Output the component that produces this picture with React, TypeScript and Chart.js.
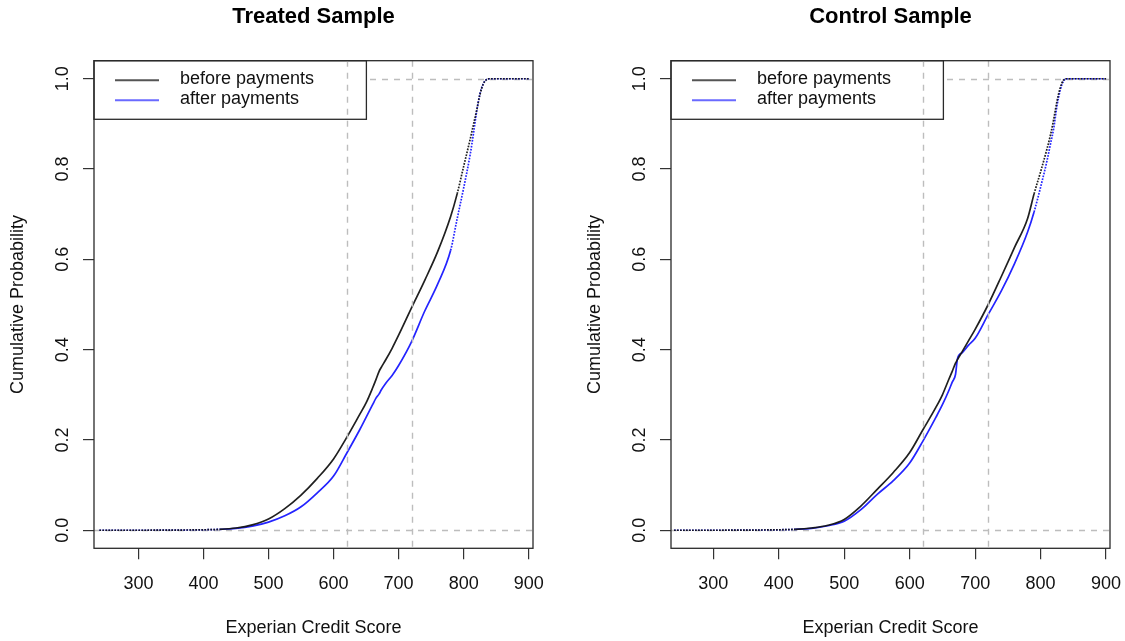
import React, { useEffect, useRef } from 'react';
import { Chart, registerables } from 'chart.js';

Chart.register(...registerables);

// ---------- data ----------
const scores = [240, 300, 350, 400, 425, 450, 475, 500, 525, 550, 575, 600, 620, 640, 650, 660, 665, 670, 673, 680, 690, 700, 720, 740, 760, 780, 790, 800, 810, 815, 820, 825, 830, 835, 840, 900];

const treatedBefore = [0, 0, 0.0003, 0.001, 0.002, 0.005, 0.012, 0.025, 0.048, 0.078, 0.115, 0.158, 0.205, 0.256, 0.282, 0.315, 0.333, 0.352, 0.36, 0.377, 0.403, 0.432, 0.493, 0.553, 0.617, 0.695, 0.745, 0.806, 0.866, 0.898, 0.93, 0.965, 0.988, 0.998, 1, 1];
const treatedAfter = [0, 0, 0.0002, 0.001, 0.002, 0.004, 0.009, 0.018, 0.032, 0.052, 0.083, 0.12, 0.17, 0.222, 0.25, 0.278, 0.292, 0.302, 0.31, 0.325, 0.343, 0.365, 0.418, 0.485, 0.545, 0.62, 0.69, 0.758, 0.832, 0.878, 0.928, 0.966, 0.988, 0.998, 1, 1];
const controlBefore = [0, 0, 0.0003, 0.001, 0.002, 0.005, 0.011, 0.024, 0.053, 0.09, 0.128, 0.172, 0.222, 0.272, 0.3, 0.335, 0.352, 0.37, 0.378, 0.395, 0.42, 0.445, 0.5, 0.562, 0.626, 0.69, 0.745, 0.794, 0.846, 0.875, 0.91, 0.95, 0.98, 0.997, 1, 1];
const controlAfter = [0, 0, 0.0002, 0.001, 0.002, 0.004, 0.01, 0.02, 0.045, 0.079, 0.11, 0.149, 0.197, 0.25, 0.278, 0.31, 0.328, 0.345, 0.38, 0.393, 0.41, 0.425, 0.478, 0.53, 0.59, 0.66, 0.705, 0.76, 0.82, 0.855, 0.89, 0.94, 0.975, 0.995, 1, 1];

const xTicks = [300, 400, 500, 600, 700, 800, 900];
const yTicks = [0, 0.2, 0.4, 0.6, 0.8, 1.0];
const refScores = [620, 720];
const refProbs = [0, 1];
const seriesLabels = ['before payments', 'after payments'];
const panelTitles = ['Treated Sample', 'Control Sample'];
const xTitle = 'Experian Credit Score';
const yTitle = 'Cumulative Probability';

// ---------- styling ----------
const FONT = '"Liberation Sans", Arial, Helvetica, sans-serif';
const BLACK = 'rgba(20,20,20,0.95)';
const BLUE = '#2424ff';
const CANVAS_W = 548;
const CANVAS_H = 641;

const overlayPlugin = {
  id: 'rOverlay',
  beforeDatasetsDraw(chart: any) {
    const { ctx, chartArea: a, scales } = chart;
    const y = scales.y;
    ctx.save();
    ctx.strokeStyle = '#bdbdbd';
    ctx.lineWidth = 1.4;
    ctx.setLineDash([6, 6]);
    ctx.beginPath();
    for (const p of refProbs) {
      const py = Math.round(y.getPixelForValue(p)) + 0.5;
      ctx.moveTo(a.left, py);
      ctx.lineTo(a.right, py);
    }
    ctx.stroke();
    ctx.restore();
  },
  afterDatasetsDraw(chart: any) {
    const { ctx, chartArea: a, scales } = chart;
    const x = scales.x;
    ctx.save();
    // legend
    const L = a.left;
    const T = a.top;
    const W = 272.4;
    const H = 58.6;
    ctx.fillStyle = '#fff';
    ctx.fillRect(L, T, W, H);
    ctx.strokeStyle = '#2a2a2a';
    ctx.lineWidth = 1.3;
    ctx.setLineDash([]);
    ctx.strokeRect(L, T, W, H);
    ctx.font = '18px ' + FONT;
    ctx.textBaseline = 'middle';
    ctx.textAlign = 'left';
    chart.data.datasets.forEach((ds: any, i: number) => {
      const ly = T + 19.6 + i * 20;
      ctx.strokeStyle = i === 0 ? '#555' : '#6a6aff';
      ctx.lineWidth = 2;
      ctx.beginPath();
      ctx.moveTo(L + 21, ly);
      ctx.lineTo(L + 65, ly);
      ctx.stroke();
      ctx.fillStyle = '#111';
      ctx.fillText(ds.label, L + 86, ly - 1);
    });
    // vertical reference lines
    ctx.strokeStyle = '#bdbdbd';
    ctx.lineWidth = 1.4;
    ctx.setLineDash([6, 6]);
    ctx.beginPath();
    for (const s of refScores) {
      const px = Math.round(x.getPixelForValue(s)) + 0.5;
      ctx.moveTo(px, a.top);
      ctx.lineTo(px, a.bottom);
    }
    ctx.stroke();
    // box
    ctx.setLineDash([]);
    ctx.strokeStyle = '#2a2a2a';
    ctx.lineWidth = 1.3;
    ctx.strokeRect(a.left, a.top, a.right - a.left, a.bottom - a.top);
    ctx.restore();
  },
};

function makeDataset(label: string, values: number[], color: string, dotFrom: number) {
  return {
    label,
    data: scores.map((s, i) => ({ x: s, y: values[i] })),
    borderColor: color,
    backgroundColor: color,
    borderWidth: 1.7,
    pointRadius: 0,
    cubicInterpolationMode: 'monotone',
    fill: false,
    segment: {
      borderDash: (c: any) =>
        c.p0.parsed.y >= dotFrom || c.p1.parsed.x <= 440 ? [1.7, 1.3] : undefined,
    },
  };
}

function makeConfig(title: string, before: number[], after: number[], xMin: number, xMax: number, dots: number[]) {
  const tickFont = { family: FONT, size: 18 };
  return {
    type: 'line',
    data: {
      datasets: [
        makeDataset(seriesLabels[0], before, BLACK, dots[0]),
        makeDataset(seriesLabels[1], after, BLUE, dots[1]),
      ],
    },
    plugins: [overlayPlugin],
    options: {
      responsive: false,
      animation: false,
      events: [],
      layout: { padding: { left: 0, right: 15, top: 0, bottom: 0 } },
      plugins: {
        legend: { display: false },
        tooltip: { enabled: false },
        title: {
          display: true,
          text: title,
          fullSize: false,
          color: '#000',
          font: { family: FONT, size: 22, weight: 'bold' },
          padding: { top: 4.2, bottom: 30.1 },
        },
      },
      scales: {
        x: {
          type: 'linear',
          min: xMin,
          max: xMax,
          afterBuildTicks: (s: any) => {
            s.ticks = xTicks.map((v) => ({ value: v }));
          },
          afterFit: (s: any) => {
            s.height = CANVAS_H - 548.3;
            s.paddingLeft = 0;
            s.paddingRight = 0;
          },
          border: { display: false },
          grid: { drawOnChartArea: false, drawTicks: true, tickLength: 11, color: '#333', lineWidth: 1.2 },
          ticks: {
            autoSkip: false,
            maxRotation: 0,
            minRotation: 0,
            padding: 14,
            color: '#111',
            font: tickFont,
            callback: (v: any) => String(v),
          },
          title: {
            display: true,
            text: xTitle,
            color: '#111',
            font: tickFont,
            padding: { top: 0, bottom: 2.5 },
          },
        },
        y: {
          type: 'linear',
          min: -0.04,
          max: 1.04,
          afterBuildTicks: (s: any) => {
            s.ticks = yTicks.map((v) => ({ value: v }));
          },
          afterFit: (s: any) => {
            s.width = 94;
            s.paddingTop = 0;
            s.paddingBottom = 0;
          },
          border: { display: false },
          grid: { drawOnChartArea: false, drawTicks: true, tickLength: 11, color: '#333', lineWidth: 1.2 },
          ticks: {
            autoSkip: false,
            minRotation: 90,
            maxRotation: 90,
            crossAlign: 'center',
            padding: 7.8,
            color: '#111',
            font: tickFont,
            callback: (v: any) => Number(v).toFixed(1),
          },
          title: {
            display: true,
            text: yTitle,
            color: '#111',
            font: tickFont,
            padding: { top: 7.5, bottom: 0 },
          },
        },
      },
    },
  };
}

function Panel(props: { left: number; cfg: any }) {
  const ref = useRef<HTMLCanvasElement>(null);
  useEffect(() => {
    if (!ref.current) return;
    const chart = new Chart(ref.current, props.cfg);
    return () => chart.destroy();
  }, []);
  return (
    <canvas
      ref={ref}
      width={CANVAS_W}
      height={CANVAS_H}
      style={{ position: 'absolute', left: props.left, top: 0, width: CANVAS_W, height: CANVAS_H }}
    />
  );
}

export default function App() {
  const treatedCfg = makeConfig(panelTitles[0], treatedBefore, treatedAfter, 231.7, 906.6, [0.7, 0.6]);
  const controlCfg = makeConfig(panelTitles[1], controlBefore, controlAfter, 235.4, 906, [0.72, 0.67]);
  return (
    <div style={{ position: 'absolute', left: 0, top: 0, width: 1125, height: 641, background: '#fff', overflow: 'hidden' }}>
      <Panel left={0} cfg={treatedCfg} />
      <Panel left={577} cfg={controlCfg} />
    </div>
  );
}
